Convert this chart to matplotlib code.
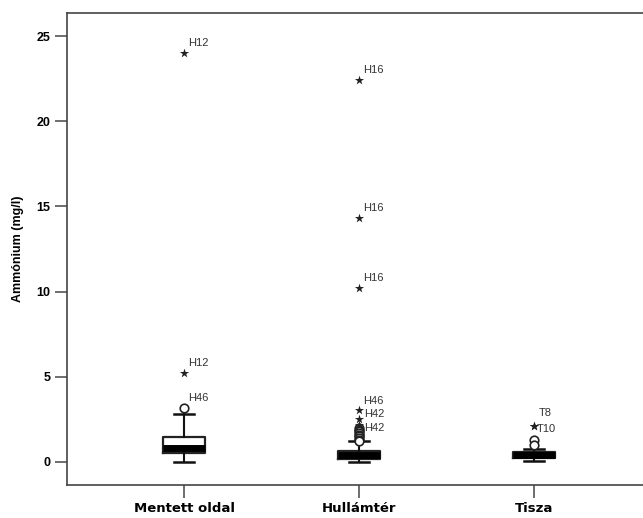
import numpy as np
import matplotlib.pyplot as plt

# Ammonium concentrations per sampling area (mg/l)
groups = ["Mentett oldal", "Hullámtér", "Tisza"]
whislo = [0.0, 0.0, 0.05]
q1 = [0.52, 0.18, 0.25]
med = [0.80, 0.40, 0.40]
q3 = [1.48, 0.65, 0.58]
whishi = [2.80, 1.22, 0.75]

# outliers (o) and extremes (*) with their sample labels
out_group = [1, 2, 2, 2, 2, 2, 2, 2, 2, 2, 3, 3]
out_value = [3.17, 2.0, 1.9, 1.8, 1.7, 1.6, 1.5, 1.4, 1.3, 1.25, 1.3, 1.0]
out_label = ["H46", "", "", "", "", "", "", "", "", "", "", ""]

ext_group = [1, 1, 2, 2, 2, 2, 2, 2, 3, 3]
ext_value = [24.0, 5.2, 22.4, 14.3, 10.2, 3.05, 2.5, 2.2, 2.1, 2.1]
ext_label = ["H12", "H12", "H16", "H16", "H16", "H46", "H42", "H42", "T8", "T10"]

yticks = [0, 5, 10, 15, 20, 25]

fig = plt.figure(figsize=(6.43, 5.18), dpi=100)
ax = fig.add_axes([67 / 643, 33 / 518, 584 / 643, 472 / 518])

stats = []
for i, g in enumerate(groups):
    stats.append(dict(label=g, whislo=whislo[i], q1=q1[i], med=med[i],
                      q3=q3[i], whishi=whishi[i]))

ax.bxp(stats, positions=[1, 2, 3], widths=0.24, showfliers=False,
       capwidths=0.115,
       boxprops=dict(color="#222222", linewidth=1.6),
       whiskerprops=dict(color="#111111", linewidth=1.5),
       capprops=dict(color="#111111", linewidth=1.8),
       medianprops=dict(color="black", linewidth=5, solid_capstyle="butt"))

ax.scatter(out_group, out_value, s=38, facecolors="white",
           edgecolors="#222222", linewidths=1.2, zorder=3)
ax.scatter(ext_group, ext_value, s=48, marker="*", color="#222222",
           linewidths=0, zorder=3)

# label offsets in pixels from the marker, with vertical alignment
ext_off = [(4, 7), (4, 7), (4, 7), (4, 7), (4, 7), (4, 6), (5, 2), (5, -6),
           (5, 10), (3, -3)]
ext_va = ["baseline"] * 6 + ["baseline", "baseline", "baseline", "center"]
for g, v, lab, off, va in zip(ext_group, ext_value, ext_label, ext_off, ext_va):
    ax.annotate(lab, (g, v), xytext=off, textcoords="offset pixels",
                fontsize=8, color="#333333", family="Liberation Sans", va=va)
for g, v, lab in zip(out_group, out_value, out_label):
    if lab:
        ax.annotate(lab, (g, v), xytext=(4, 7), textcoords="offset pixels",
                    fontsize=8, color="#333333", family="Liberation Sans",
                    va="baseline")

ax.set_xlim(0.331, 3.669)
ax.set_ylim(-1.35, 26.35)
ax.set_yticks(yticks)
ax.set_yticklabels([str(t) for t in yticks], family="Liberation Sans",
                   fontweight="bold", fontsize=9)
ax.set_xticks([1, 2, 3])
ax.set_xticklabels(groups, family="DejaVu Sans", fontweight="bold",
                   fontsize=9.5)
ax.tick_params(axis="both", length=9, width=1.2, color="#555555", pad=3)
ax.set_ylabel("Ammónium (mg/l)", family="Liberation Sans",
              fontweight="bold", fontsize=9, labelpad=9)

for side in ["left", "top", "bottom", "right"]:
    ax.spines[side].set_color("#444444")
    ax.spines[side].set_linewidth(1.2)

fig.savefig("out.png", dpi=100)
